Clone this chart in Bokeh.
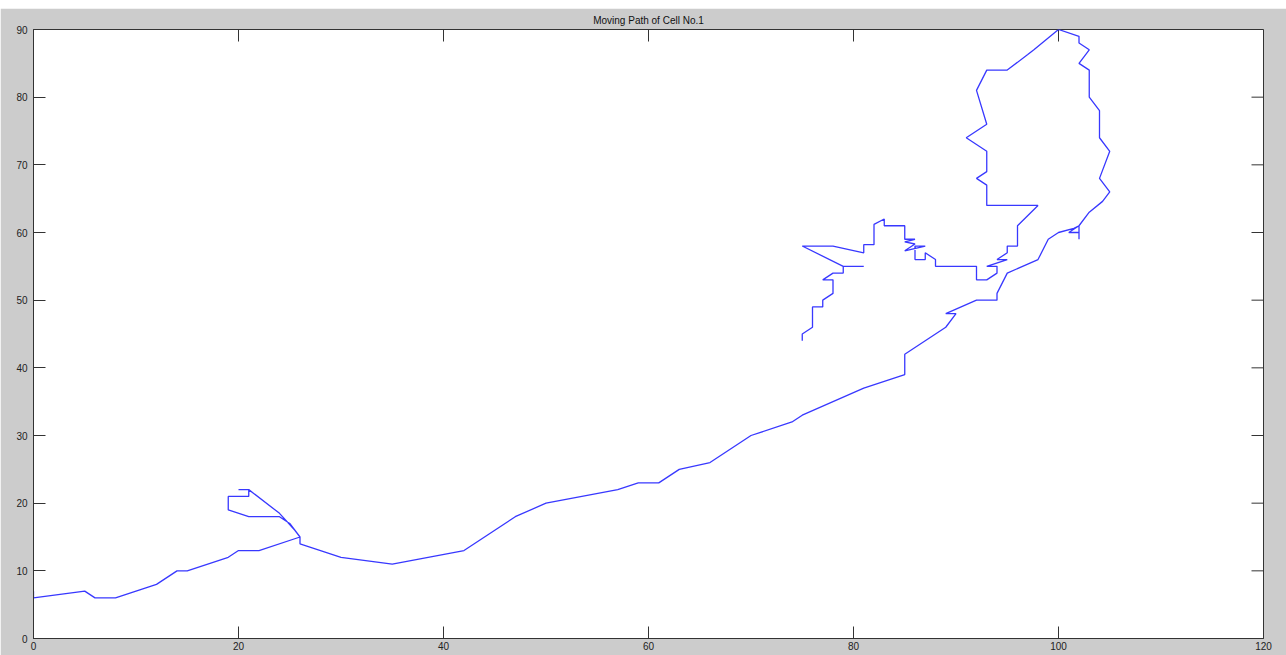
import math
from bokeh.plotting import figure
from bokeh.models import Range1d, FixedTicker, Spacer
from bokeh.layouts import column
from bokeh.embed import file_html
from bokeh.resources import INLINE

title_text = "Moving Path of Cell No.1"
x_ticks = [0, 20, 40, 60, 80, 100, 120]
y_ticks = [0, 10, 20, 30, 40, 50, 60, 70, 80, 90]

path_x = [0, 0, 5, 6, 8, 12, 14, 15, 19, 20, 22, 26,
          25, 24, 21, 19, 19, 21, 21, 20, 21, 24, 25.5, 26,
          26, 30, 35, 42, 47, 50, 57, 59, 61, 63, 66, 68, 70, 74, 75, 81, 85, 85,
          89, 90, 89, 92, 94, 94, 95, 98, 99, 100, 101.5, 102, 102, 102, 101, 102,
          103, 104.3, 105, 104, 105, 104, 104, 103, 103, 102, 103, 102, 102, 100,
          97.6, 97, 95, 93, 92, 93, 91, 93, 93, 92, 93, 93, 98, 96, 96, 95, 95,
          94, 95, 93, 94, 94, 93, 92, 92, 88, 88, 87, 87, 86, 86, 87,
          85, 86, 85, 86, 85, 85, 83, 83, 82, 82, 81, 81, 78, 75,
          79, 81, 79, 79, 78, 77, 78, 78, 77, 77, 76, 76, 75, 75]
path_y = [7, 6, 7, 6, 6, 8, 10, 10, 12, 13, 13, 15,
          17, 18, 18, 19, 21, 21, 22, 22, 22, 18.5, 16, 15,
          14, 12, 11, 13, 18, 20, 22, 23, 23, 25, 26, 28, 30, 32, 33, 37, 39, 42,
          46, 48, 48, 50, 50, 51, 54, 56, 59, 60, 60.6, 61, 59, 60, 60, 61,
          63, 64.6, 66, 68, 72, 74, 78, 80, 84, 85, 87, 88, 89, 90,
          87, 86.3, 84, 84, 81, 76, 74, 72, 69, 68, 67, 64, 64, 61, 58, 58, 57,
          56, 56, 55, 55, 54, 53, 53, 55, 55, 56, 57, 56, 56, 58, 58,
          57.3, 58.3, 58.6, 59, 59, 61, 61, 62, 61.2, 58.2, 58.2, 57, 58, 58,
          55, 55, 55, 54, 54, 53, 53, 51, 50, 49, 49, 46, 45, 44]

X_MIN, X_MAX = 0, 120
Y_MIN, Y_MAX = 0, 90

p = figure(width=1286, height=647, x_range=Range1d(X_MIN, X_MAX), y_range=Range1d(Y_MIN, Y_MAX),
           output_backend="svg", toolbar_location=None,
           background_fill_color="white", border_fill_color="#cccccc",
           min_border_left=33, min_border_right=23, min_border_top=20, min_border_bottom=17)

p.title.text = title_text
p.title.align = "center"
p.title.text_font = "Liberation Sans"
p.title.text_font_size = "10px"
p.title.text_font_style = "normal"
p.title.text_color = "#111111"
p.title.standoff = 8
p.title.offset = 0

p.grid.visible = False
p.outline_line_color = "#333333"

for ax, ticks, standoff in ((p.xaxis[0], x_ticks, 3), (p.yaxis[0], y_ticks, 6)):
    ax.ticker = FixedTicker(ticks=ticks)
    ax.major_tick_in = 12
    ax.major_tick_out = 0
    ax.minor_tick_line_color = None
    ax.major_tick_line_color = "#333333"
    ax.axis_line_color = "#333333"
    ax.major_label_text_font = "Liberation Sans"
    ax.major_label_text_color = "#222222"
    ax.major_label_text_font_size = "10px"
    ax.major_label_standoff = standoff

# inward ticks on the top and right edges (MATLAB box style)
p.ray(x=x_ticks, y=[Y_MAX] * len(x_ticks), length=12, length_units="screen",
      angle=-math.pi / 2, line_color="#333333", line_width=1)
p.ray(x=[X_MAX] * len(y_ticks), y=y_ticks, length=12, length_units="screen",
      angle=math.pi, line_color="#333333", line_width=1)

p.line(path_x, path_y, line_color="#3838ff", line_width=1.3)

layout = column(Spacer(width=1286, height=8), p, spacing=0)

open("out.html", "w").write(file_html(layout, INLINE))
